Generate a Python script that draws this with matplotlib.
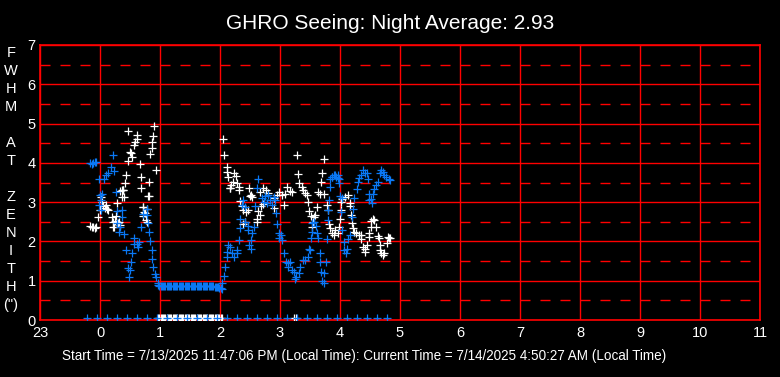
import matplotlib
matplotlib.use("Agg")
import matplotlib.pyplot as plt

plt.rcParams['font.family'] = ['Liberation Sans', 'DejaVu Sans']
plt.rcParams['lines.scale_dashes'] = False

# --- Data (hours on a continuous clock: 24 = midnight) ---
white_x = [23.83, 23.86, 23.89, 23.92, 23.94, 23.97, 24.0, 24.02, 24.03, 24.05, 24.08, 24.10, 24.12,
           24.14, 24.2, 24.22, 24.21, 24.23, 24.25, 24.27, 24.28, 24.30, 24.31, 24.33, 24.36, 24.38,
           24.34, 24.36, 24.39, 24.40, 24.41, 24.44, 24.46, 24.50, 24.51, 24.53, 24.56, 24.58, 24.62,
           24.62, 24.47, 24.66, 24.68, 24.69, 24.71, 24.71, 24.72, 24.73, 24.75, 24.78, 24.81,
           24.90, 24.89, 24.87, 24.86, 24.83, 24.94, 24.82, 24.80, 24.78, 24.76,
           26.05, 26.07, 26.11, 26.12, 26.14, 26.23, 26.27, 26.22, 26.19, 26.16, 26.17, 26.29, 26.31,
           26.32, 26.49, 26.50, 26.51, 26.53, 26.66, 26.72, 26.77, 26.80, 26.34, 26.36, 26.38, 26.44,
           26.47, 26.38, 26.41, 26.63, 26.66, 26.62, 26.61, 26.68, 26.72,
           27.28, 27.73, 27.30, 27.70, 27.69, 27.32, 27.36, 27.38, 27.41, 27.45, 27.12, 27.17, 27.20,
           27.09, 27.03, 26.98, 26.95, 26.90, 27.64, 27.67, 27.73, 27.47, 27.06, 26.90, 27.62, 27.78,
           27.80, 27.48, 27.52, 27.56, 27.59, 27.55, 27.53, 27.81, 27.84, 27.87, 27.90, 27.91,
           28.13, 28.09, 28.04, 28.02, 28.16, 28.17, 28.02, 28.00, 28.18, 28.20, 28.21, 28.24, 27.96,
           27.99, 28.27, 28.31, 28.35, 28.35, 28.55, 28.52, 28.57, 28.52, 28.60, 28.49, 28.48, 28.63,
           28.65, 28.80, 28.82, 28.78, 28.66, 28.66, 28.68, 28.72, 28.74, 28.38, 28.42, 28.45, 28.41,
           28.83]
white_y = [2.39, 2.37, 2.36, 2.35, 2.36, 2.63, 2.80, 3.12, 3.00, 2.90, 2.86, 2.93, 2.82,
           2.80, 2.63, 2.50, 2.36, 2.38, 2.53, 2.66, 2.97, 2.46, 2.50, 2.41, 3.32, 3.30,
           3.28, 3.12, 3.31, 3.13, 3.48, 3.69, 4.05, 4.28, 4.25, 4.14, 4.46, 4.53, 4.60,
           4.72, 4.82, 3.97, 3.63, 3.35, 2.87, 2.66, 2.88, 2.76, 2.72, 2.50, 3.16,
           4.93, 4.68, 4.53, 4.39, 4.22, 3.83, 3.51, 3.16, 2.82, 2.55,
           4.60, 4.20, 3.90, 3.78, 3.63, 3.73, 3.67, 3.52, 3.44, 3.35, 3.35, 3.49, 3.39,
           3.31, 3.37, 3.16, 3.18, 3.14, 3.27, 3.35, 3.31, 3.24, 3.04, 2.90, 2.80, 2.76,
           2.80, 2.44, 2.50, 2.78, 2.67, 2.56, 2.50, 2.90, 2.95,
           4.20, 4.09, 3.72, 3.75, 3.52, 3.49, 3.39, 3.31, 3.24, 3.18, 3.39, 3.29, 3.27,
           3.21, 3.18, 3.27, 3.18, 3.10, 3.27, 3.21, 3.21, 3.01, 2.93, 2.84, 2.87, 2.93,
           2.80, 2.78, 2.65, 2.61, 2.67, 2.50, 2.38, 2.44, 2.33, 2.22, 2.16, 2.29,
           3.18, 3.12, 3.07, 3.01, 2.97, 2.90, 2.80, 2.56, 2.67, 2.46, 2.33, 2.25, 2.21,
           2.36, 2.21, 2.16, 2.16, 2.05, 2.56, 2.53, 2.55, 2.38, 2.36, 2.22, 2.12, 2.14,
           2.08, 2.12, 2.08, 1.97, 1.91, 1.78, 1.71, 1.65, 1.70, 1.87, 1.80, 1.91, 1.74,
           2.08]

blue_x = [23.83, 23.86, 23.89, 23.92, 23.94, 23.98, 24.0, 24.02, 23.99, 24.01, 24.04, 24.07, 24.10,
          24.14, 24.18, 24.24, 24.21, 24.27, 24.29, 24.37, 24.37, 24.29, 24.33, 24.40, 24.32,
          24.69, 24.71, 24.57, 24.56, 24.62, 24.65, 24.64, 24.44, 24.54, 24.52, 24.46, 24.50, 24.48,
          24.79, 24.79, 24.80, 24.82, 24.83, 24.86, 24.87, 24.89, 24.91, 24.93, 24.96,
          26.63, 26.61, 26.74, 26.79, 26.83, 26.86, 26.70, 26.75, 26.80, 26.38, 26.36, 26.41, 26.58,
          26.34, 26.33, 26.42, 26.46, 26.47, 26.53, 26.57, 26.49, 26.51, 26.52, 26.31, 26.14, 26.16,
          26.12, 26.20, 26.23, 26.29, 26.28, 26.11, 26.08, 26.07, 26.03,
          27.87, 27.90, 27.84, 27.84, 27.82, 27.86, 27.92, 27.94, 27.97, 26.90, 26.92, 26.93, 26.95,
          26.98, 27.02, 26.99, 27.03, 27.56, 27.60, 27.53, 27.62, 27.51, 27.64, 27.78, 27.80, 27.80,
          27.53, 27.50, 27.06, 27.10, 27.14, 27.17, 27.13, 27.20, 27.23, 27.27, 27.25, 27.34, 27.38,
          27.42, 27.47, 27.49, 27.32, 27.66, 27.67, 27.76, 27.69, 27.73, 27.70, 27.73,
          28.38, 28.42, 28.45, 28.35, 28.32, 28.30, 28.28, 28.46, 28.68, 28.71, 28.66, 28.74, 28.77,
          28.82, 28.63, 28.60, 28.57, 28.55, 28.48, 28.52, 28.53, 28.49, 27.96, 27.99, 27.98, 28.00,
          28.04, 28.24, 28.22, 28.20, 28.02, 28.04, 28.17, 28.14, 28.06, 28.07, 28.10, 28.11, 28.83]
blue_y = [3.99, 3.97, 4.00, 4.02, 4.03, 3.58, 3.18, 3.05, 2.92, 2.80, 3.21, 3.58, 3.69,
          3.73, 3.90, 3.80, 4.21, 3.27, 2.78, 2.80, 2.63, 2.46, 2.36, 2.19, 2.24,
          2.36, 2.70, 2.10, 1.93, 1.93, 1.99, 1.85, 1.78, 1.70, 1.48, 1.32, 1.27, 1.10,
          2.82, 2.67, 2.46, 2.24, 2.02, 1.78, 1.56, 1.36, 1.17, 1.10, 0.93,
          3.58, 3.35, 3.01, 2.97, 3.05, 2.93, 3.10, 3.15, 3.18, 3.05, 2.93, 2.87, 2.90,
          2.56, 2.33, 2.50, 2.39, 2.29, 2.21, 2.38, 1.91, 1.82, 2.04, 2.04, 1.91, 1.85,
          1.74, 1.70, 1.61, 1.78, 1.70, 1.60, 1.34, 1.12, 0.93,
          3.65, 3.69, 3.58, 3.39, 3.05, 3.65, 3.69, 3.65, 3.61, 3.12, 3.05, 2.72, 2.44,
          2.21, 2.16, 2.08, 2.04, 2.50, 2.39, 2.25, 2.21, 2.08, 2.08, 2.05, 2.55, 2.80,
          2.47, 1.78, 1.70, 1.48, 1.44, 1.48, 1.36, 1.27, 1.23, 1.10, 1.04, 1.36, 1.53,
          1.54, 1.61, 1.80, 1.19, 1.70, 1.48, 1.48, 1.23, 1.19, 1.00, 0.93,
          3.83, 3.73, 3.75, 3.69, 3.61, 3.52, 3.33, 3.58, 3.82, 3.78, 3.75, 3.69, 3.63,
          3.58, 3.52, 3.44, 3.33, 3.22, 3.21, 3.07, 2.99, 3.05, 3.69, 3.58, 3.48, 3.16,
          3.10, 3.10, 2.82, 2.61, 2.76, 2.29, 2.16, 2.05, 1.99, 1.78, 1.71, 1.82, 3.56]

# one-minute readings between 1 and 2 AM: blue sits on a plateau, white reads zero
gap_x = [24.97, 24.99, 25.01, 25.03, 25.05, 25.07, 25.09, 25.11, 25.13, 25.15, 25.17, 25.19,
         25.21, 25.23, 25.25, 25.27, 25.29, 25.31, 25.33, 25.35, 25.37, 25.39, 25.41, 25.43,
         25.45, 25.47, 25.49, 25.51, 25.53, 25.55, 25.57, 25.59, 25.61, 25.63, 25.65, 25.67,
         25.69, 25.71, 25.73, 25.75, 25.77, 25.79, 25.81, 25.83, 25.85, 25.87, 25.89, 25.91,
         25.93, 25.95, 25.97, 25.99, 26.01, 26.03]
plateau_y = [0.88, 0.87, 0.86, 0.86, 0.86, 0.86, 0.86, 0.86, 0.86, 0.86, 0.86, 0.86,
             0.86, 0.86, 0.86, 0.86, 0.86, 0.86, 0.86, 0.86, 0.86, 0.86, 0.86, 0.86,
             0.86, 0.86, 0.86, 0.86, 0.86, 0.86, 0.86, 0.86, 0.86, 0.86, 0.86, 0.86,
             0.86, 0.86, 0.86, 0.86, 0.86, 0.86, 0.86, 0.86, 0.86, 0.86, 0.86, 0.85,
             0.85, 0.84, 0.83, 0.82, 0.81, 0.80]
white_zero_extra_x = [27.23, 27.27]

# ten-minute zero readings
blue_zero_x = [23.78, 23.95, 24.12, 24.28, 24.45, 24.62, 24.78, 24.95, 25.12, 25.28, 25.45,
               25.62, 25.78, 25.95, 26.12, 26.28, 26.45, 26.62, 26.78, 26.95, 27.12, 27.28,
               27.45, 27.62, 27.78, 27.95, 28.12, 28.28, 28.45, 28.62, 28.78]
zero_level = 0.06

hour_ticks = list(range(23, 36))
hour_labels = [str(h % 24) for h in hour_ticks]

# --- Plot ---
W, H = 780, 377
fig = plt.figure(figsize=(W / 100, H / 100), dpi=100, facecolor='black')
ax = fig.add_axes([40 / W, 1 - 320 / H, 720 / W, 275 / H], facecolor='black')

red = '#ff0000'
blue = '#0a78f5'
ax.set_xlim(23, 35)
ax.set_ylim(0, 7)
ax.set_xticks(hour_ticks)
ax.set_xticklabels(hour_labels)
ax.set_yticks(range(0, 8))
ax.set_yticks([i + 0.5 for i in range(7)], minor=True)
ax.tick_params(which='both', length=0, colors='white', labelsize=10.5)
ax.tick_params(axis='x', pad=4)
ax.tick_params(axis='y', pad=3)
ax.grid(True, which='major', color=red, linewidth=1.0, linestyle='-')
ax.grid(True, which='minor', axis='y', color=red, linewidth=1.0, linestyle=(0, (10 * 0.72, 10 * 0.72)))
ax.set_axisbelow(True)
for s in ax.spines.values():
    s.set_color(red)
    s.set_linewidth(1.2)

mk = dict(linestyle='none', marker='+', markersize=5.5, markeredgewidth=0.9, zorder=3)
ax.plot(white_x, white_y, color='white', clip_on=False, **mk)
ax.plot(gap_x, [zero_level] * len(gap_x), color='white', **mk)
ax.plot(white_zero_extra_x, [zero_level] * len(white_zero_extra_x), color='white', **mk)
ax.plot(blue_x, blue_y, color=blue, clip_on=False, **mk)
ax.plot(gap_x, plateau_y, color=blue, **mk)
ax.plot(blue_zero_x, [zero_level] * len(blue_zero_x), color=blue, **mk)

fig.text(0.5, 1 - 29 / H, 'GHRO Seeing: Night Average: 2.93', color='white',
         fontsize=15, ha='center', va='baseline')

ylab = ['F', 'W', 'H', 'M', '', 'A', 'T', '', 'Z', 'E', 'N', 'I', 'T', 'H', '(")']
for i, ch in enumerate(ylab):
    fig.text(11 / W, 1 - (53 + 18 * i) / H, ch, color='white', fontsize=10.5,
             ha='center', va='center')

fig.text(62 / W, 1 - 360 / H,
         'Start Time = 7/13/2025 11:47:06 PM (Local Time): Current Time = 7/14/2025 4:50:27 AM (Local Time)',
         color='white', fontsize=9.75, ha='left', va='baseline')

fig.savefig('out.png', dpi=100, facecolor='black')
